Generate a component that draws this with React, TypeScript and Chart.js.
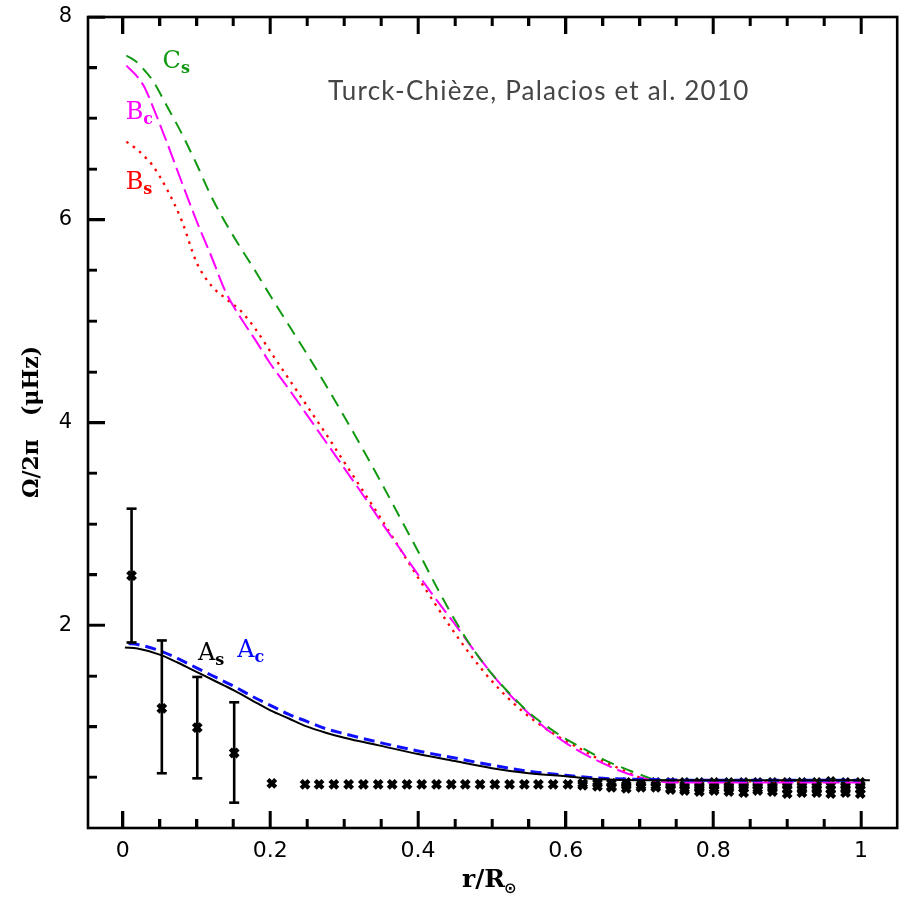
import React, { useEffect, useRef } from "react";
import { Chart, registerables } from "chart.js";
Chart.register(...registerables);

// ---- model curves (r/R, Omega/2pi in microHz) ----
const topX = [0.005, 0.02, 0.03, 0.04, 0.06, 0.08, 0.10, 0.12, 0.14, 0.16, 0.18, 0.20, 0.225, 0.25, 0.275, 0.30, 0.325, 0.35, 0.375, 0.40, 0.425, 0.45, 0.475, 0.50, 0.525, 0.55, 0.575, 0.60, 0.625, 0.65, 0.675, 0.70, 0.72, 0.74, 0.80, 0.90, 1.00];
const csY = [7.62, 7.55, 7.47, 7.38, 7.12, 6.85, 6.55, 6.23, 5.96, 5.72, 5.49, 5.25, 4.96, 4.67, 4.37, 4.06, 3.74, 3.41, 3.07, 2.73, 2.38, 2.05, 1.76, 1.52, 1.32, 1.14, 1.00, 0.88, 0.78, 0.68, 0.60, 0.53, 0.48, 0.47, 0.47, 0.47, 0.47];
const bcY = [7.52, 7.41, 7.30, 7.13, 6.76, 6.37, 5.99, 5.64, 5.28, 5.03, 4.81, 4.58, 4.33, 4.07, 3.81, 3.55, 3.29, 3.02, 2.76, 2.50, 2.25, 2.01, 1.76, 1.52, 1.31, 1.13, 0.97, 0.84, 0.73, 0.64, 0.56, 0.50, 0.47, 0.45, 0.45, 0.45, 0.45];
const bsY = [6.77, 6.69, 6.62, 6.54, 6.30, 5.99, 5.58, 5.35, 5.22, 5.10, 4.92, 4.70, 4.43, 4.16, 3.89, 3.61, 3.33, 3.05, 2.76, 2.47, 2.19, 1.92, 1.67, 1.45, 1.26, 1.10, 0.97, 0.86, 0.76, 0.66, 0.58, 0.50, 0.47, 0.46, 0.46, 0.46, 0.46];

const asX = [0.003, 0.02, 0.05, 0.075, 0.10, 0.125, 0.15, 0.175, 0.20, 0.225, 0.25, 0.275, 0.30, 0.35, 0.40, 0.45, 0.50, 0.55, 0.60, 0.65, 0.70, 0.80, 0.90, 1.012];
const asY = [1.78, 1.77, 1.71, 1.63, 1.54, 1.45, 1.36, 1.26, 1.16, 1.08, 1.00, 0.94, 0.89, 0.81, 0.73, 0.66, 0.59, 0.54, 0.51, 0.48, 0.47, 0.47, 0.47, 0.47];
const acX = [0.008, 0.02, 0.05, 0.075, 0.10, 0.125, 0.15, 0.175, 0.20, 0.225, 0.25, 0.275, 0.30, 0.35, 0.40, 0.45, 0.50, 0.55, 0.60, 0.65, 0.70, 0.80, 0.90, 0.995];
const acY = [1.82, 1.81, 1.75, 1.67, 1.58, 1.49, 1.40, 1.30, 1.21, 1.12, 1.05, 0.98, 0.93, 0.84, 0.76, 0.69, 0.62, 0.56, 0.52, 0.49, 0.48, 0.47, 0.47, 0.47];

// ---- observed points with error bars ----
const errX = [0.012, 0.053, 0.101, 0.151];
const errY = [2.49, 1.18, 0.99, 0.74];
const errLo = [1.83, 0.54, 0.49, 0.25];
const errHi = [3.15, 1.85, 1.49, 1.24];

// ---- observed points without error bars [r/R, Omega/2pi] ----
const obsPoints: [number, number][] = [
  [0.202, 0.44],
  [0.247, 0.43], [0.266, 0.43], [0.286, 0.43], [0.306, 0.43], [0.326, 0.43], [0.346, 0.43],
  [0.365, 0.43], [0.385, 0.43], [0.405, 0.43], [0.425, 0.43], [0.445, 0.43], [0.464, 0.43],
  [0.484, 0.43], [0.504, 0.43], [0.524, 0.43], [0.544, 0.43], [0.563, 0.43], [0.583, 0.43],
  [0.603, 0.43],
  [0.623, 0.44], [0.623, 0.42],
  [0.643, 0.44], [0.643, 0.41],
  [0.662, 0.44], [0.662, 0.41], [0.662, 0.40],
  [0.682, 0.45], [0.682, 0.42], [0.682, 0.39],
  [0.702, 0.45], [0.702, 0.42], [0.702, 0.40],
  [0.722, 0.45], [0.722, 0.42], [0.722, 0.40],
  [0.742, 0.45], [0.742, 0.42], [0.742, 0.39], [0.742, 0.38],
  [0.761, 0.45], [0.761, 0.42], [0.761, 0.39], [0.761, 0.37],
  [0.781, 0.45], [0.781, 0.42], [0.781, 0.39], [0.781, 0.36],
  [0.801, 0.45], [0.801, 0.42], [0.801, 0.39], [0.801, 0.37],
  [0.821, 0.45], [0.821, 0.42], [0.821, 0.39], [0.821, 0.36],
  [0.841, 0.45], [0.841, 0.42], [0.841, 0.39], [0.841, 0.35],
  [0.860, 0.45], [0.860, 0.42], [0.860, 0.39], [0.860, 0.37],
  [0.880, 0.45], [0.880, 0.42], [0.880, 0.39], [0.880, 0.36],
  [0.900, 0.45], [0.900, 0.42], [0.900, 0.38], [0.900, 0.34],
  [0.920, 0.45], [0.920, 0.42], [0.920, 0.38], [0.920, 0.35],
  [0.940, 0.45], [0.940, 0.42], [0.940, 0.38], [0.940, 0.35],
  [0.959, 0.46], [0.959, 0.42], [0.959, 0.38], [0.959, 0.34],
  [0.979, 0.45], [0.979, 0.42], [0.979, 0.38], [0.979, 0.35],
  [0.999, 0.45], [0.999, 0.42], [0.999, 0.38], [0.999, 0.34],
];

// ---- axis ticks ----
const xMajorTicks = [0, 0.2, 0.4, 0.6, 0.8, 1];
const xMinorTicks = [0.05, 0.1, 0.15, 0.25, 0.3, 0.35, 0.45, 0.5, 0.55, 0.65, 0.7, 0.75, 0.85, 0.9, 0.95];
const yMajorTicks = [2, 4, 6, 8];
const yMinorTicks = [0.5, 1, 1.5, 2.5, 3, 3.5, 4.5, 5, 5.5, 6.5, 7, 7.5];

const CREDIT = "Turck-Chièze, Palacios et al. 2010";

const pts = (xs: number[], ys: number[]) => xs.map((x, i) => ({ x, y: ys[i] }));
const isIn = (arr: number[], v: number) => arr.some((m) => Math.abs(m - v) < 1e-9);
const allTicks = (a: number[], b: number[]) => [...a, ...b].sort((p, q) => p - q).map((v) => ({ value: v }));
const MAJ = 17, MIN = 9, LW = 2.6;

const dashFromAxis = (major: number[]) => (c: any) =>
  c && c.tick && isIn(major, c.tick.value) ? [] : [MIN, 100];
const dashFromInside = (major: number[]) => (c: any) =>
  c && c.tick && isIn(major, c.tick.value) ? [] : [0, MAJ - MIN, MIN, 100];

const overlay = {
  id: "overlay",
  afterDatasetsDraw(chart: any) {
    const { ctx, scales } = chart;
    const sx = scales.x, sy = scales.y;
    const X = (v: number) => sx.getPixelForValue(v);
    const Y = (v: number) => sy.getPixelForValue(v);
    ctx.save();
    ctx.setLineDash([]);
    ctx.fillStyle = "#000";
    errX.forEach((x, i) => {
      const px = X(x), lo = Y(errLo[i]), hi = Y(errHi[i]);
      ctx.fillRect(px - 1.3, hi, 2.6, lo - hi);
      ctx.fillRect(px - 5, hi - 1.3, 10, 2.6);
      ctx.fillRect(px - 5, lo - 1.3, 10, 2.6);
    });

    const label = (main: string, sub: string, x: number, y: number, color: string) => {
      ctx.fillStyle = color;
      ctx.textBaseline = "alphabetic";
      ctx.textAlign = "left";
      ctx.font = "24px 'DejaVu Serif'";
      const px = X(x), py = Y(y);
      ctx.fillText(main, px, py);
      const tw = ctx.measureText(main).width;
      ctx.font = "bold 16px 'DejaVu Serif'";
      ctx.fillText(sub, px + tw, py + 5);
    };
    label("C", "s", 0.054, 7.50, "#119911");
    label("B", "c", 0.004, 6.99, "#ff00ff");
    label("B", "s", 0.004, 6.30, "#ff0000");
    label("A", "s", 0.102, 1.66, "#000000");
    label("A", "c", 0.155, 1.69, "#0000ff");

    ctx.fillStyle = "#454545";
    ctx.font = "26px Lato";
    ctx.textAlign = "left";
    try { (ctx as any).letterSpacing = "1.2px"; } catch (e) {}
    ctx.fillText(CREDIT, 328, 100);
    try { (ctx as any).letterSpacing = "0px"; } catch (e) {}

    ctx.fillStyle = "#000";
    ctx.font = "bold 25px 'DejaVu Serif'";
    ctx.fillText("r/R", 462, 887);
    const wr = ctx.measureText("r/R").width;
    ctx.font = "bold 15px 'DejaVu Sans'";
    ctx.fillText("\u2299", 462 + wr - 1, 893);

    ctx.save();
    ctx.translate(38, 422);
    ctx.rotate(-Math.PI / 2);
    ctx.textAlign = "center";
    ctx.font = "bold 22px 'DejaVu Serif'";
    ctx.fillText("\u03A9/2\u03C0   (\u03BCHz)", 0, 0);
    ctx.restore();
    ctx.restore();
  },
  afterDraw(chart: any) {
    const ctx: CanvasRenderingContext2D = chart.ctx;
    const a = chart.chartArea;
    const sx = chart.scales.x, sy = chart.scales.y;
    const L = a.left, R = a.right, T = a.top, B = a.bottom;
    ctx.save();
    ctx.setLineDash([]);
    ctx.strokeStyle = "#000";
    ctx.lineWidth = LW;
    ctx.lineCap = "butt";
    ctx.strokeRect(L, T, R - L, B - T);
    ctx.beginPath();
    const vt = (v: number, len: number) => {
      const px = Math.round(sx.getPixelForValue(v));
      ctx.moveTo(px, B); ctx.lineTo(px, B - len);
      ctx.moveTo(px, T); ctx.lineTo(px, T + len);
    };
    const ht = (v: number, len: number) => {
      const py = Math.round(sy.getPixelForValue(v));
      ctx.moveTo(L, py); ctx.lineTo(L + len, py);
    };
    xMajorTicks.forEach((v) => vt(v, MAJ));
    xMinorTicks.forEach((v) => vt(v, MIN));
    yMajorTicks.forEach((v) => ht(v, MAJ));
    yMinorTicks.forEach((v) => ht(v, MIN));
    ctx.stroke();
    ctx.restore();
  },
};

export default function App() {
  const ref = useRef<HTMLCanvasElement>(null);
  useEffect(() => {
    const line = (data: any, color: string, width: number, dash: number[]) => ({
      data,
      borderColor: color,
      backgroundColor: color,
      borderWidth: width,
      borderDash: dash,
      pointRadius: 0,
      showLine: true,
      fill: false,
      cubicInterpolationMode: "monotone",
    });
    const tickGrid = (dash: any) => ({
      display: true,
      drawOnChartArea: false,
      drawTicks: true,
      tickLength: -MAJ,
      color: "#000",
      lineWidth: LW,
      tickWidth: LW,
      tickColor: "#000",
      tickBorderDash: dash,
    });
    const chart = new Chart(ref.current!, {
      type: "scatter",
      data: {
        datasets: [
          { label: "A_s", ...line(pts(asX, asY), "#000000", 2, []) },
          { label: "A_c", ...line(pts(acX, acY), "#1010ff", 3, [11, 6]) },
          { label: "C_s", ...line(pts(topX, csY), "#119911", 2, [13, 8]) },
          { label: "B_c", ...line(pts(topX, bcY), "#ff00ff", 2, [17, 6]) },
          { label: "B_s", ...line(pts(topX, bsY), "#ff0000", 2.3, [2.5, 5.5]) },
          {
            label: "obs",
            data: [
              ...errX.map((x, i) => ({ x, y: errY[i] })),
              ...obsPoints.map(([x, y]) => ({ x, y })),
            ],
            pointStyle: "crossRot",
            pointRadius: 5.5,
            pointBorderWidth: 4.3,
            borderColor: "#000",
            backgroundColor: "#000",
            showLine: false,
          } as any,
        ],
      },
      options: {
        animation: false,
        responsive: false,
        devicePixelRatio: 1,
        layout: { padding: { top: 17, right: 8, left: 0, bottom: 0 } },
        plugins: { legend: { display: false }, tooltip: { enabled: false } },
        scales: {
          x: {
            type: "linear",
            position: "bottom",
            min: -0.047,
            max: 1.049,
            grid: tickGrid(dashFromAxis(xMajorTicks)),
            border: { display: false },
            afterBuildTicks: (s: any) => { s.ticks = allTicks(xMajorTicks, xMinorTicks); },
            afterFit: (s: any) => { s.height = 73; s.paddingLeft = 0; s.paddingRight = 0; },
            ticks: {
              padding: 10 + MAJ,
              autoSkip: false,
              color: "#000",
              font: { family: "'DejaVu Sans'", size: 22 },
              callback: (v: any) => (isIn(xMajorTicks, v) ? String(v) : ""),
              maxRotation: 0,
            },
          },
          x2: {
            type: "linear",
            position: "top",
            min: -0.047,
            max: 1.049,
            grid: tickGrid(dashFromInside(xMajorTicks)),
            border: { display: false },
            afterBuildTicks: (s: any) => { s.ticks = allTicks(xMajorTicks, xMinorTicks); },
            afterFit: (s: any) => { s.height = 0; s.paddingLeft = 0; s.paddingRight = 0; },
            ticks: { display: false, autoSkip: false },
          },
          y: {
            type: "linear",
            position: "left",
            min: 0,
            max: 8,
            grid: tickGrid(dashFromInside(yMajorTicks)),
            border: { display: false },
            afterBuildTicks: (s: any) => { s.ticks = allTicks(yMajorTicks, yMinorTicks); },
            afterFit: (s: any) => { s.width = 88; s.paddingTop = 0; s.paddingBottom = 0; },
            ticks: {
              padding: 16 + MAJ,
              autoSkip: false,
              color: "#000",
              font: { family: "'DejaVu Sans'", size: 21 },
              callback: (v: any) => (isIn(yMajorTicks, v) ? String(v) : ""),
            },
          },
        },
      } as any,
      plugins: [overlay],
    });
    return () => chart.destroy();
  }, []);
  return (
    <div style={{ position: "fixed", left: 0, top: 0, width: 907, height: 901, background: "#fff" }}>
      <canvas ref={ref} width={907} height={901} style={{ display: "block" }} />
    </div>
  );
}
